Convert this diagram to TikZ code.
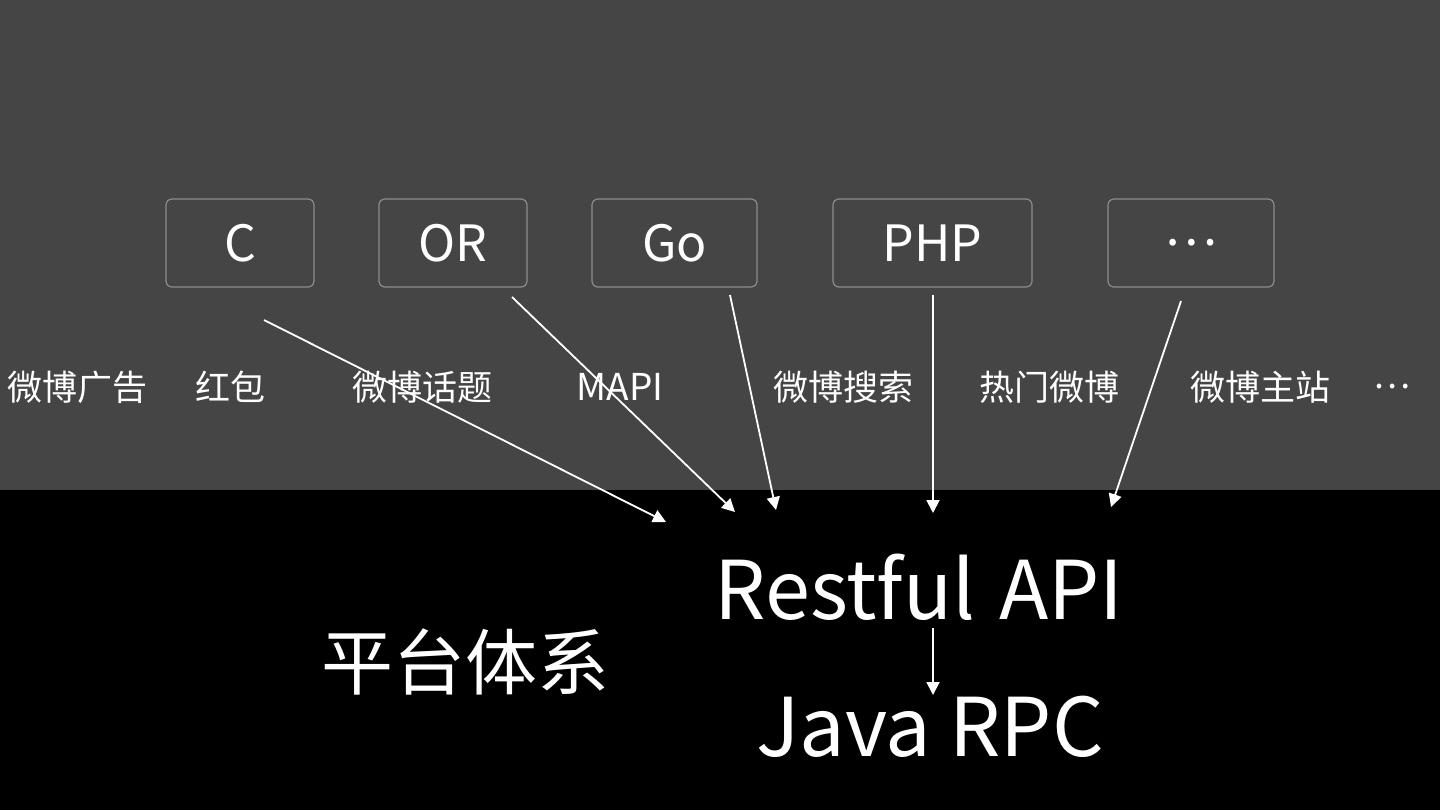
\documentclass[tikz,border=0pt]{standalone}
\usepackage{fontspec}
\setmainfont{Noto Sans CJK SC}
\usepackage{xcolor}
\usetikzlibrary{arrows.meta,positioning}

\definecolor{slidegray}{HTML}{454545}
\definecolor{boxline}{HTML}{8C8C8C}

\tikzset{
  langbox/.style={draw=boxline, line width=0.6pt, rounded corners=3pt,
    minimum height=44pt, text=white, font=\fontsize{25}{30}\selectfont},
  app/.style={text=white, font=\fontsize{17.5}{21}\selectfont},
  big/.style={text=white, font=\fontsize{40.5}{48}\selectfont},
  call/.style={draw=white, line width=0.9pt, -{Triangle[length=6.5pt,width=6.5pt]}}
}

\begin{document}
\begin{tikzpicture}[x=0.5pt, y=-0.5pt]

\useasboundingbox (0,0) rectangle (1440,810);
\fill[slidegray] (0,0) rectangle (1440,490);
\fill[black] (0,490) rectangle (1440,810);

% language boxes
\node[langbox, minimum width=74pt]   (c)   at (240,243)   {C};
\node[langbox, minimum width=74pt]   (or)  at (453,243)   {OR};
\node[langbox, minimum width=82.5pt] (go)  at (674.5,243) {Go};
\node[langbox, minimum width=99.5pt] (php) at (932.5,243) {PHP};
\node[langbox, minimum width=83pt]   (etc) at (1191,243)  {…};

% applications
\node[app] (ad)     at (78,387)   {微博广告};
\node[app] (hb)     at (230,387)  {红包};
\node[app] (topic)  at (422,387)  {微博话题};
\node[app, font=\fontsize{18.5}{22}\selectfont] (mapi) at (620,387) {MAPI};
\node[app] (search) at (843,387)  {微博搜索};
\node[app] (hot)    at (1049,387) {热门微博};
\node[app] (main)   at (1260,387) {微博主站};
\node[app] (more)   at (1392,387) {…};

% platform
\node[big] (rest) at (919,587) {Restful\hspace{3pt} API};
\node[big] (java) at (930,727) {Java RPC};
\node[big, font=\fontsize{36}{42}\selectfont] (plat) at (465,662) {平台体系};

% arrow ends
\coordinate (cOut)   at (264,320);
\coordinate (cIn)    at (666,522);
\coordinate (orOut)  at (512,297);
\coordinate (orIn)   at (735,512);
\coordinate (goOut)  at (730,295);
\coordinate (goIn)   at (776,510);
\coordinate (phpOut) at (933,295);
\coordinate (phpIn)  at (933,513);
\coordinate (etcOut) at (1181,301);
\coordinate (etcIn)  at (1111,507);
\coordinate (restOut) at (933,628);
\coordinate (javaIn)  at (933,695);

\draw[call] (cOut) -- (cIn);
\draw[call] (orOut) -- (orIn);
\draw[call] (goOut) -- (goIn);
\draw[call] (phpOut) -- (phpIn);
\draw[call] (etcOut) -- (etcIn);
\draw[call] (restOut) -- (javaIn);

\end{tikzpicture}
\end{document}
